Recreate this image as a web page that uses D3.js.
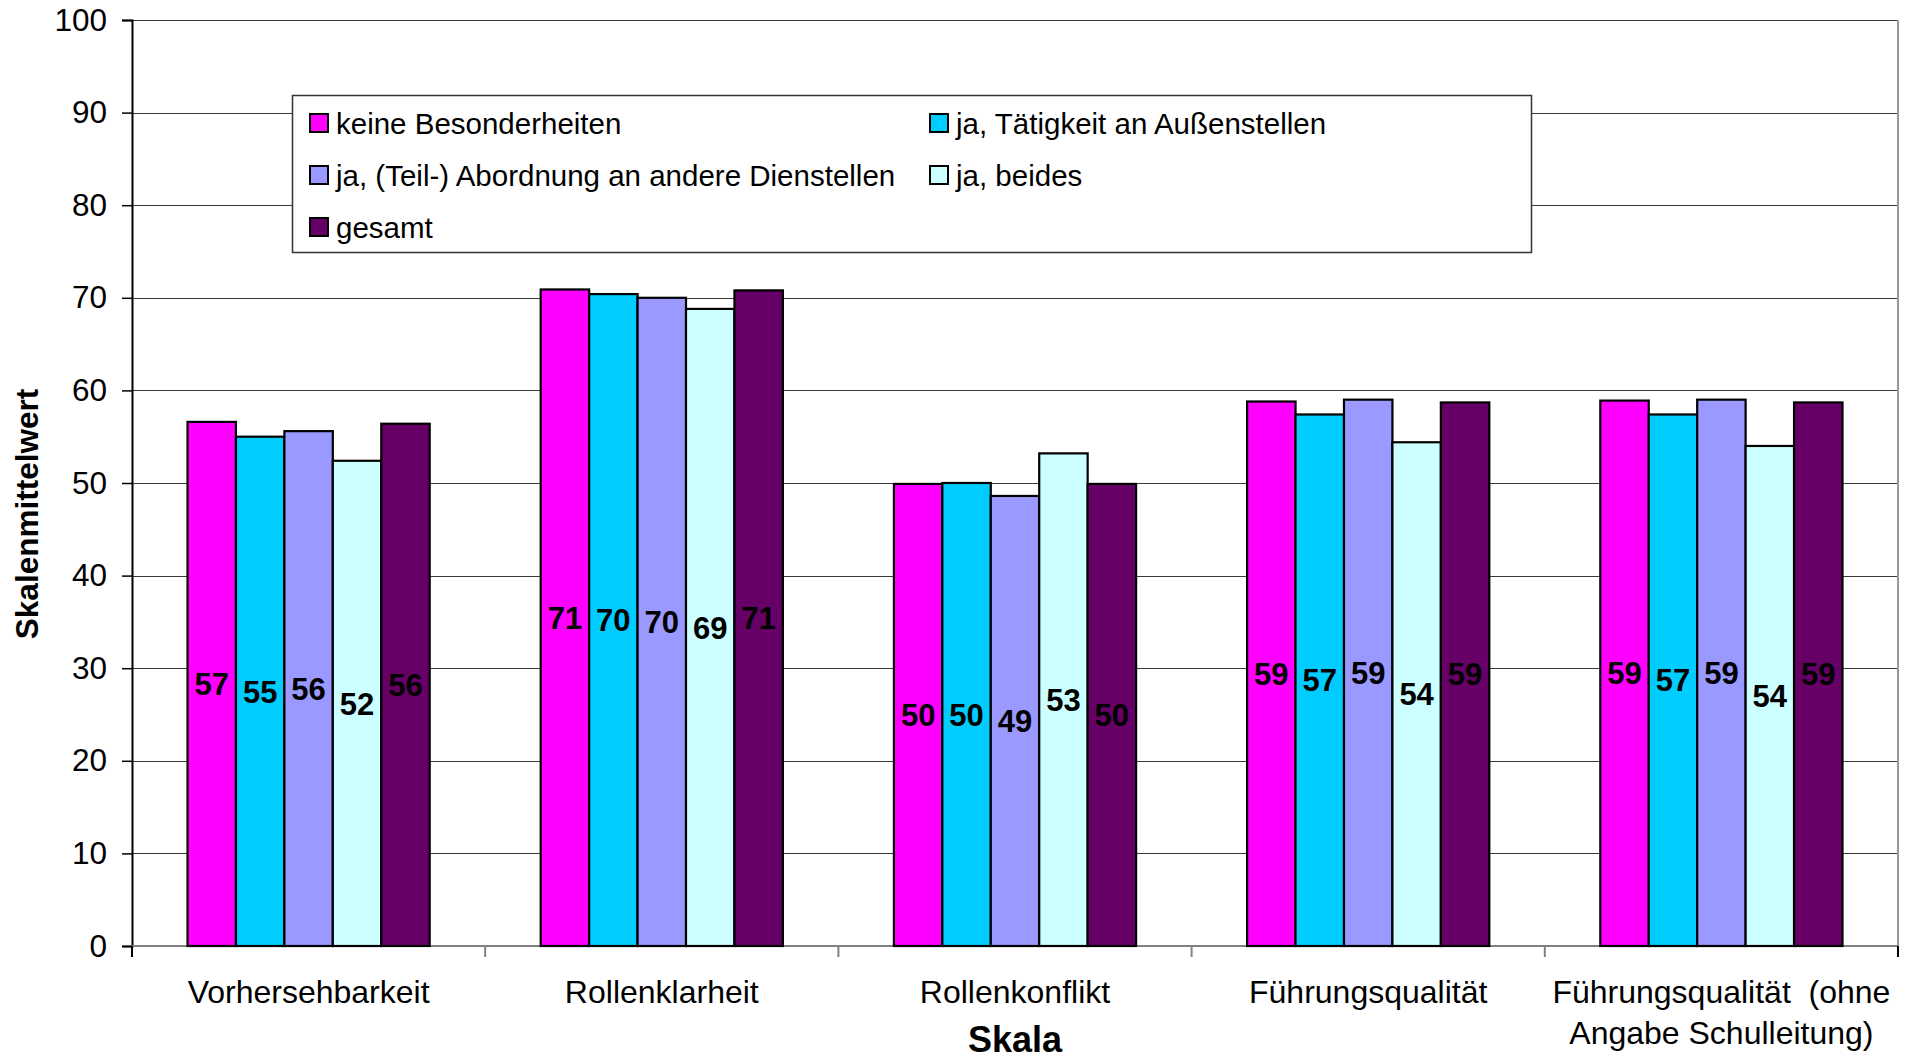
<!DOCTYPE html>
<head>
  <meta charset="utf-8">
  <title>Skalenmittelwerte</title>
  <style>
    body { margin: 0; background: #fff; }
    text { font-family: "Liberation Sans", Arial, sans-serif; }
  </style>
</head>

<script src="https://cdn.jsdelivr.net/npm/d3@7"></script>

<div id="my_dataviz"></div>

<script>

  // categories on the x axis (label lines for wrapping)
  const categories = ["Vorhersehbarkeit", "Rollenklarheit", "Rollenkonflikt", "Führungsqualität", "Führungsqualität (ohne Angabe Schulleitung)"]
  const categoryLines = [["Vorhersehbarkeit"], ["Rollenklarheit"], ["Rollenkonflikt"], ["Führungsqualität"], ["Führungsqualität  (ohne", "Angabe Schulleitung)"]]

  // series names
  const series = ["keine Besonderheiten", "ja, Tätigkeit an Außenstellen", "ja, (Teil-) Abordnung an andere Dienstellen", "ja, beides", "gesamt"]

  // values per series, one per category
  const keineBesonderheiten = [56.6, 70.9, 49.9, 58.8, 58.9]
  const aussenstellen       = [55.0, 70.4, 50.0, 57.4, 57.4]
  const abordnung           = [55.6, 70.0, 48.6, 59.0, 59.0]
  const beides              = [52.4, 68.8, 53.2, 54.4, 54.0]
  const gesamt              = [56.4, 70.8, 49.9, 58.7, 58.7]
  const seriesValues = [keineBesonderheiten, aussenstellen, abordnung, beides, gesamt]

  const yTicks = [0, 10, 20, 30, 40, 50, 60, 70, 80, 90, 100]
  const colors = ["#ff00ff", "#00ccff", "#9999ff", "#ccffff", "#660066"]

  const W = 1907, H = 1060
  const plot = {left: 132, right: 1898, top: 20, bottom: 946}

  const svg = d3.select("#my_dataviz")
    .append("svg")
      .attr("width", W)
      .attr("height", H)

  const x0 = d3.scaleBand()
    .domain(categories)
    .range([plot.left, plot.right])
    .padding(0)

  const x1 = d3.scaleBand()
    .domain(series)
    .range([0, x0.bandwidth()])
    .paddingInner(0)
    .paddingOuter(1.146)

  const y = d3.scaleLinear()
    .domain([0, 100])
    .range([plot.bottom, plot.top])

  const color = d3.scaleOrdinal().domain(series).range(colors)

  // gridlines
  svg.append("g")
    .selectAll("line")
    .data(yTicks.filter(d => d > 0))
    .join("line")
      .attr("x1", plot.left)
      .attr("x2", plot.right)
      .attr("y1", d => Math.round(y(d)) + 0.5)
      .attr("y2", d => Math.round(y(d)) + 0.5)
      .attr("stroke", "#3a3a3a")
      .attr("stroke-width", 1.2)

  // right frame of plot area
  svg.append("line")
    .attr("x1", plot.right).attr("x2", plot.right)
    .attr("y1", plot.top).attr("y2", plot.bottom)
    .attr("stroke", "#999")
    .attr("stroke-width", 2)

  // y axis
  const yAxis = svg.append("g")
    .attr("transform", `translate(${plot.left},0)`)
    .call(d3.axisLeft(y).tickValues(yTicks).tickSize(10).tickPadding(15).tickFormat(d3.format("d")))
  yAxis.select(".domain").attr("stroke", "#000").attr("stroke-width", 2)
  yAxis.selectAll(".tick line").attr("stroke", "#000").attr("stroke-width", 1.5)
  yAxis.selectAll(".tick text")
    .attr("font-size", 31.5)
    .attr("font-family", "Liberation Sans, Arial, sans-serif")
    .attr("fill", "#000")

  // x axis
  const xAxis = svg.append("g")
    .attr("transform", `translate(0,${plot.bottom})`)
  xAxis.append("line")
    .attr("x1", plot.left).attr("x2", plot.right)
    .attr("stroke", "#808080").attr("stroke-width", 2)
  xAxis.selectAll(".xtick")
    .data(categories.concat(["end"]))
    .join("line")
      .attr("class", "xtick")
      .attr("x1", (d, i) => i < categories.length ? x0(d) : plot.right)
      .attr("x2", (d, i) => i < categories.length ? x0(d) : plot.right)
      .attr("y1", 0).attr("y2", 11)
      .attr("stroke", (d, i) => i == 0 || i == categories.length ? "#000" : "#808080")
      .attr("stroke-width", 2)

  const xLabels = xAxis.selectAll(".xlab")
    .data(categories)
    .join("text")
      .attr("class", "xlab")
      .attr("x", d => x0(d) + x0.bandwidth() / 2)
      .attr("y", 57)
      .attr("text-anchor", "middle")
      .attr("font-size", 32)
      .attr("fill", "#000")
  xLabels.each(function(d, i) {
    d3.select(this).selectAll("tspan")
      .data(categoryLines[i])
      .join("tspan")
        .attr("x", x0(d) + x0.bandwidth() / 2)
        .attr("dy", (t, j) => j == 0 ? 0 : 41)
        .attr("xml:space", "preserve")
        .style("white-space", "pre")
        .text(t => t)
  })

  // bars
  const groups = svg.append("g")
    .selectAll("g")
    .data(categories)
    .join("g")
      .attr("transform", d => `translate(${x0(d)},0)`)

  const barData = (c, ci) => series.map((s, si) => ({series: s, value: seriesValues[si][ci]}))

  groups.selectAll("rect")
    .data((c, ci) => barData(c, ci))
    .join("rect")
      .attr("x", d => x1(d.series))
      .attr("y", d => y(d.value))
      .attr("width", x1.bandwidth())
      .attr("height", d => y(0) - y(d.value))
      .attr("fill", d => color(d.series))
      .attr("stroke", "#000")
      .attr("stroke-width", 2.2)

  groups.selectAll(".val")
    .data((c, ci) => barData(c, ci))
    .join("text")
      .attr("class", "val")
      .attr("x", d => x1(d.series) + x1.bandwidth() / 2)
      .attr("y", d => (y(d.value) + y(0)) / 2)
      .attr("dy", "0.36em")
      .attr("text-anchor", "middle")
      .attr("font-size", 31)
      .attr("font-weight", "bold")
      .attr("fill", "#000")
      .text(d => Math.round(d.value))

  // axis titles
  svg.append("text")
    .attr("transform", "translate(38,514) rotate(-90)")
    .attr("text-anchor", "middle")
    .attr("font-size", 31.5)
    .attr("font-weight", "bold")
    .text("Skalenmittelwert")

  svg.append("text")
    .attr("x", (plot.left + plot.right) / 2)
    .attr("y", 1052)
    .attr("text-anchor", "middle")
    .attr("font-size", 36)
    .attr("font-weight", "bold")
    .text("Skala")

  // legend
  const legend = svg.append("g")
  legend.append("rect")
    .attr("x", 292.5).attr("y", 95.5)
    .attr("width", 1239).attr("height", 157)
    .attr("fill", "#fff")
    .attr("stroke", "#333")
    .attr("stroke-width", 1.5)

  const legendItems = legend.selectAll(".li")
    .data(series)
    .join("g")
      .attr("class", "li")
      .attr("transform", (d, i) => `translate(${i % 2 == 0 ? 310 : 930},${123 + Math.floor(i / 2) * 52})`)
  legendItems.append("rect")
    .attr("x", 0).attr("y", -9)
    .attr("width", 18).attr("height", 18)
    .attr("fill", d => color(d))
    .attr("stroke", "#000")
    .attr("stroke-width", 2)
  legendItems.append("text")
    .attr("x", 26)
    .attr("y", 0)
    .attr("dy", "0.36em")
    .attr("font-size", 29.5)
    .text(d => d)

</script>
